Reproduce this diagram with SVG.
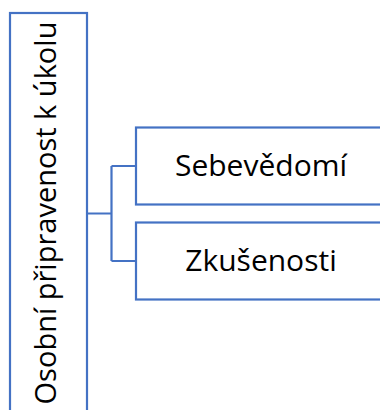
<svg xmlns="http://www.w3.org/2000/svg" width="380" height="410" viewBox="0 0 380 410">
<style>
.box{fill:#fff;stroke:#4472C4;stroke-width:2.2}
.conn{fill:none;stroke:#4472C4;stroke-width:2.2}
.t{font-family:"Open Sans","Noto Sans","Liberation Sans",sans-serif;font-size:30px;fill:#000;text-anchor:middle}
.v{font-size:29px}
</style>
<rect width="380" height="410" fill="#fff"/>
<g id="connectors">
<path class="conn" d="M87,213.5 H111.5 M111.5,166 V261 M111.5,166 H136 M111.5,261 H136"/>
</g>
<g id="root">
<rect class="box" x="10" y="13" width="77" height="420"/>
<text class="t v" transform="translate(56,213) rotate(-90)" x="0" y="0">Osobní připravenost k úkolu</text>
</g>
<g id="n1">
<rect class="box" x="136" y="127.5" width="260" height="77"/>
<text class="t" x="261" y="175.5">Sebevědomí</text>
</g>
<g id="n2">
<rect class="box" x="136" y="222.5" width="260" height="77"/>
<text class="t" x="261" y="270.5">Zkušenosti</text>
</g>
</svg>
